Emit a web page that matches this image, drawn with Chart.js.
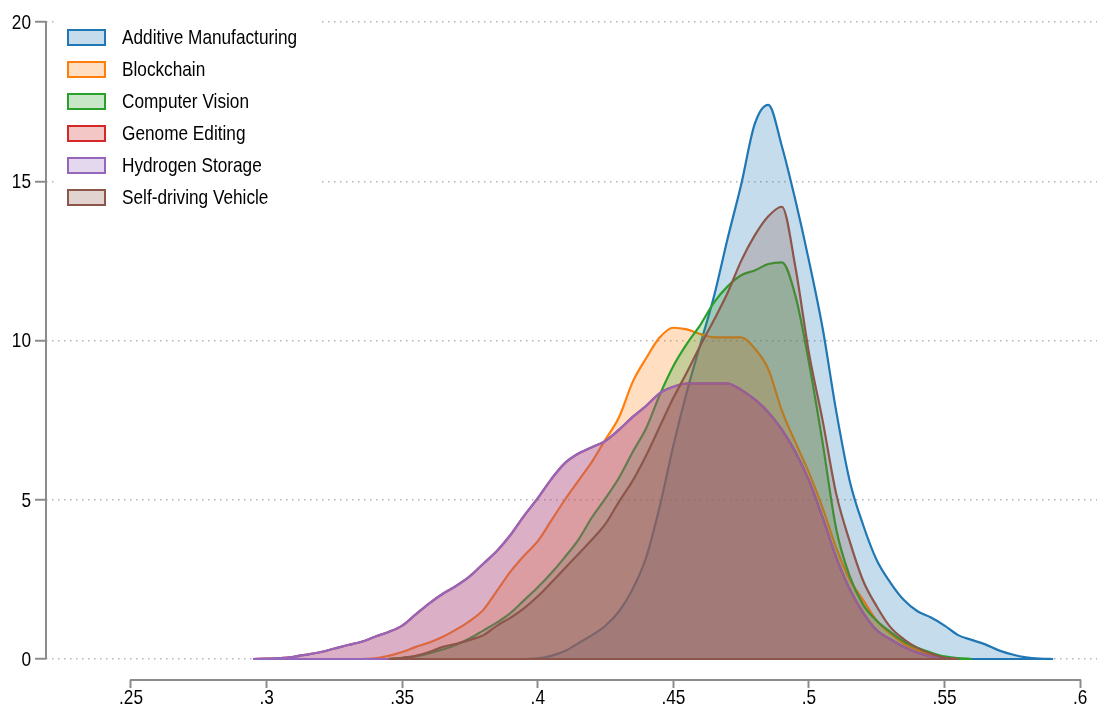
<!DOCTYPE html>
<html lang="en">
<head>
  <meta charset="UTF-8" />
  <title>Kernel density by technology</title>
  <style>
    html, body { margin: 0; padding: 0; background: #fff; }
    #wrap { width: 1097px; height: 715px; position: relative; }
  </style>
</head>
<body>
  <div id="wrap"><canvas id="densityChart"></canvas></div>

  <script src="https://cdn.jsdelivr.net/npm/chart.js"></script>
  <script>
    // evaluation points (x) shared by every curve
    const xs = [0.295, 0.300, 0.305, 0.310, 0.315, 0.320, 0.325, 0.330, 0.335, 0.340,
                0.345, 0.350, 0.355, 0.360, 0.365, 0.370, 0.375, 0.380, 0.385, 0.390,
                0.395, 0.400, 0.405, 0.410, 0.415, 0.420, 0.425, 0.430, 0.435, 0.440,
                0.445, 0.450, 0.455, 0.460, 0.465, 0.470, 0.475, 0.480, 0.485, 0.490,
                0.495, 0.500, 0.505, 0.510, 0.515, 0.520, 0.525, 0.530, 0.535, 0.540,
                0.545, 0.550, 0.555, 0.560, 0.565, 0.570, 0.575, 0.580, 0.585, 0.590];

    const additive = [null, null, null, null, null, null, null, null, null, null,
                      null, null, null, null, null, null, null, null, null, null,
                      0, 0.02, 0.1, 0.25, 0.5, 0.75, 1.05, 1.5, 2.2, 3.2,
                      4.8, 6.7, 8.4, 9.9, 11.4, 13.2, 14.9, 16.8, 17.4, 16.1,
                      14.4, 12.5, 10.4, 7.8, 5.6, 4.2, 3.1, 2.4, 1.85, 1.5,
                      1.3, 1.05, 0.75, 0.6, 0.46, 0.27, 0.14, 0.05, 0.01, 0];

    const blockchain = [null, null, null, null, null, null, null, null, 0, 0.02,
                        0.1, 0.22, 0.38, 0.52, 0.7, 0.93, 1.2, 1.55, 2.15, 2.75,
                        3.25, 3.7, 4.35, 5.0, 5.6, 6.2, 6.9, 7.6, 8.7, 9.45,
                        10.1, 10.4, 10.35, 10.2, 10.1, 10.1, 10.1, 9.75, 9.1, 7.8,
                        6.8, 5.85, 4.75, 3.5, 2.5, 1.85, 1.2, 0.8, 0.48, 0.28,
                        0.13, 0.05, 0, null, null, null, null, null, null, null];

    const vision = [null, null, null, null, null, null, null, null, null, null,
                    0, 0.03, 0.08, 0.18, 0.3, 0.45, 0.65, 0.9, 1.15, 1.45,
                    1.85, 2.25, 2.7, 3.2, 3.75, 4.45, 5.05, 5.7, 6.5, 7.25,
                    8.3, 9.2, 9.9, 10.5, 11.2, 11.7, 12.05, 12.2, 12.4, 12.45,
                    11.4, 9.3, 6.8, 4.1, 2.6, 1.7, 1.2, 0.85, 0.55, 0.35,
                    0.2, 0.08, 0.03, 0, null, null, null, null, null, null];

    // genome editing sits right under hydrogen storage (only its fill shows)
    const genome = [0, 0.01, 0.03, 0.07, 0.14, 0.22, 0.33, 0.44, 0.54, 0.7,
                    0.85, 1.05, 1.4, 1.75, 2.05, 2.3, 2.6, 3.0, 3.4, 3.9,
                    4.5, 5.05, 5.65, 6.15, 6.45, 6.65, 6.85, 7.2, 7.6, 7.95,
                    8.35, 8.55, 8.65, 8.65, 8.65, 8.65, 8.45, 8.15, 7.75, 7.2,
                    6.5, 5.6, 4.45, 3.2, 2.2, 1.45, 0.9, 0.62, 0.38, 0.2,
                    0.08, 0.02, 0, null, null, null, null, null, null, null];

    const hydrogen = [0, 0.01, 0.03, 0.07, 0.14, 0.22, 0.33, 0.44, 0.54, 0.7,
                      0.85, 1.05, 1.4, 1.75, 2.05, 2.3, 2.6, 3.0, 3.4, 3.9,
                      4.5, 5.05, 5.65, 6.15, 6.45, 6.65, 6.85, 7.2, 7.6, 7.95,
                      8.35, 8.55, 8.65, 8.65, 8.65, 8.65, 8.45, 8.15, 7.75, 7.2,
                      6.5, 5.6, 4.45, 3.2, 2.2, 1.45, 0.9, 0.62, 0.38, 0.2,
                      0.08, 0.02, 0, null, null, null, null, null, null, null];

    const selfDriving = [null, null, null, null, null, null, null, null, null, null,
                         0, 0.04, 0.1, 0.22, 0.38, 0.48, 0.6, 0.75, 1.05, 1.3,
                         1.6, 1.97, 2.4, 2.85, 3.3, 3.75, 4.25, 4.95, 5.6, 6.4,
                         7.3, 8.2, 9.0, 9.85, 10.65, 11.5, 12.5, 13.3, 13.9, 14.2,
                         12.3, 9.6, 7.5, 5.2, 3.7, 2.45, 1.65, 1.0, 0.62, 0.35,
                         0.17, 0.04, 0, null, null, null, null, null, null, null];

    const seriesNames = ['Additive Manufacturing', 'Blockchain', 'Computer Vision',
                         'Genome Editing', 'Hydrogen Storage', 'Self-driving Vehicle'];
    const seriesValues = [additive, blockchain, vision, genome, hydrogen, selfDriving];

    const xTicks = [0.25, 0.3, 0.35, 0.4, 0.45, 0.5, 0.55, 0.6];
    const xTickLabels = ['.25', '.3', '.35', '.4', '.45', '.5', '.55', '.6'];
    const yTicks = [0, 5, 10, 15, 20];
    const yTickLabels = ['0', '5', '10', '15', '20'];

    const lineColors = ['#1f77b4', '#ff7f0e', '#2ca02c', '#d62728', '#9467bd', '#8c564b'];
    const fillColors = ['rgba(31,119,180,0.26)', 'rgba(255,127,14,0.26)', 'rgba(44,160,44,0.26)',
                        'rgba(214,39,40,0.26)', 'rgba(148,103,189,0.26)', 'rgba(140,86,75,0.26)'];

    const FONT = "'Liberation Sans', Arial, sans-serif";
    const NARROW = 0.82; // Stata text here is a narrow Helvetica
    Chart.defaults.font.family = FONT;

    function narrowText(ctx, text, x, y, align) {
      ctx.save();
      ctx.translate(x, y);
      ctx.scale(NARROW, 1);
      ctx.textAlign = align;
      ctx.textBaseline = 'middle';
      ctx.fillText(text, 0, 0);
      ctx.restore();
    }

    // Stata look: base line of each area, short axis lines, narrow labels, legend inside plot
    const stataLook = {
      id: 'stataLook',
      afterDatasetDraw(chart, args) {
        const pts = args.meta.data.filter(p => !p.skip);
        if (!pts.length) return;
        const ctx = chart.ctx;
        const y0 = chart.scales.y.getPixelForValue(0);
        ctx.save();
        ctx.strokeStyle = chart.data.datasets[args.index].borderColor;
        ctx.lineWidth = 2.2;
        ctx.beginPath();
        ctx.moveTo(pts[0].x, y0);
        ctx.lineTo(pts[pts.length - 1].x, y0);
        ctx.stroke();
        ctx.restore();
      },
      afterDraw(chart) {
        const ctx = chart.ctx;
        const sx = chart.scales.x, sy = chart.scales.y;
        const area = chart.chartArea;
        ctx.save();
        ctx.strokeStyle = '#8c8c8c';
        ctx.lineWidth = 2;
        ctx.beginPath();
        ctx.moveTo(area.left, sy.getPixelForValue(yTicks[0]));
        ctx.lineTo(area.left, sy.getPixelForValue(yTicks[yTicks.length - 1]) - 1);
        ctx.moveTo(sx.getPixelForValue(xTicks[0]) - 1, area.bottom);
        ctx.lineTo(sx.getPixelForValue(xTicks[xTicks.length - 1]) + 1, area.bottom);
        ctx.stroke();

        // tick labels
        ctx.fillStyle = '#000';
        ctx.font = '21px ' + FONT;
        yTicks.forEach((v, i) => narrowText(ctx, yTickLabels[i], area.left - 15, sy.getPixelForValue(v) + 1, 'right'));
        xTicks.forEach((v, i) => narrowText(ctx, xTickLabels[i], sx.getPixelForValue(v), area.bottom + 18, 'center'));

        // legend
        ctx.fillStyle = '#fff';
        ctx.fillRect(54, 14, 268, 202);
        chart.data.datasets.forEach((ds, i) => {
          const cy = 37 + 32 * i;
          ctx.fillStyle = ds.backgroundColor;
          ctx.fillRect(68, cy - 7, 37, 15);
          ctx.strokeStyle = ds.borderColor;
          ctx.lineWidth = 2;
          ctx.strokeRect(68, cy - 7, 37, 15);
          ctx.fillStyle = '#000';
          ctx.font = '21px ' + FONT;
          narrowText(ctx, ds.label, 122, cy + 1, 'left');
        });
        ctx.restore();
      }
    };

    const ctx = document.getElementById('densityChart').getContext('2d');

    const chart = new Chart(ctx, {
      type: 'line',
      data: {
        datasets: seriesNames.map((name, i) => ({
          label: name,
          data: xs.map((x, j) => ({ x: x, y: seriesValues[i][j] })),
          borderColor: lineColors[i],
          backgroundColor: fillColors[i],
          fill: 'origin',
          order: seriesNames.length - i,
          borderWidth: 2.2,
          pointRadius: 0,
          cubicInterpolationMode: 'monotone',
          spanGaps: false
        }))
      },
      options: {
        responsive: true,
        maintainAspectRatio: false,
        devicePixelRatio: 1,
        animation: false,
        layout: { padding: { top: 22, right: 0, bottom: 0, left: 0 } },
        plugins: {
          legend: { display: false },
          tooltip: { enabled: false }
        },
        scales: {
          x: {
            type: 'linear',
            min: 0.21866,
            max: 0.6062,
            afterBuildTicks: s => { s.ticks = xTicks.map(v => ({ value: v })); },
            afterFit: s => { s.height = 35; },
            border: { display: false },
            grid: { drawOnChartArea: false, drawTicks: true, tickLength: 8, tickColor: '#8c8c8c', tickWidth: 2 },
            ticks: {
              color: 'rgba(0,0,0,0)',
              font: { size: 21 },
              padding: 0,
              maxRotation: 0,
              autoSkip: false,
              callback: (v, i) => xTickLabels[i]
            }
          },
          y: {
            type: 'linear',
            min: -0.6593,
            max: 20,
            afterBuildTicks: s => { s.ticks = yTicks.map(v => ({ value: v })); },
            afterFit: s => { s.width = 46; },
            border: { display: false, dash: [1.5, 4.5] },
            grid: {
              color: '#b4b4b4',
              lineWidth: 1.5,
              borderDash: [1.5, 4.5],
              tickColor: '#8c8c8c',
              tickWidth: 2,
              tickLength: 11,
              tickBorderDash: []
            },
            ticks: {
              color: 'rgba(0,0,0,0)',
              font: { size: 21 },
              padding: 5,
              callback: (v, i) => yTickLabels[i]
            }
          }
        }
      },
      plugins: [stataLook]
    });
  </script>
</body>
</html>
